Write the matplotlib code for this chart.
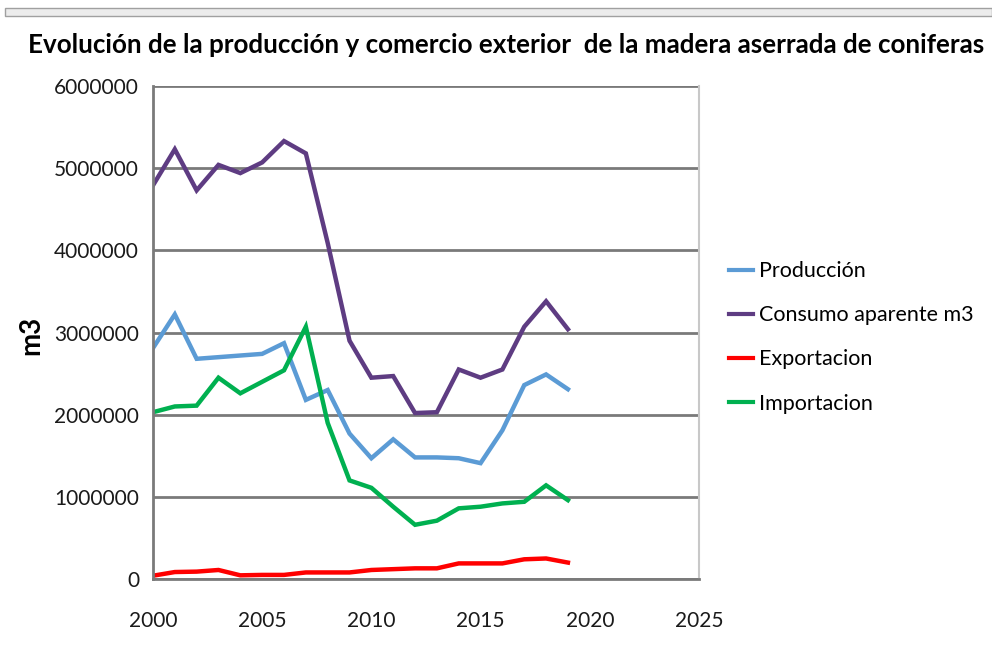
import matplotlib
matplotlib.use("Agg")
import matplotlib.pyplot as plt
from matplotlib.patches import Rectangle

plt.rcParams['font.family'] = ['Lato', 'DejaVu Sans']

years = list(range(2000, 2020))

produccion = [2810000, 3220000, 2680000, 2700000, 2720000, 2740000, 2870000, 2180000, 2300000, 1770000,
              1470000, 1700000, 1480000, 1480000, 1470000, 1410000, 1810000, 2360000, 2490000, 2310000]
consumo = [4790000, 5230000, 4730000, 5040000, 4940000, 5070000, 5330000, 5180000, 4090000, 2900000,
           2450000, 2470000, 2020000, 2030000, 2550000, 2450000, 2550000, 3070000, 3380000, 3040000]
exportacion = [40000, 85000, 90000, 110000, 45000, 50000, 50000, 80000, 80000, 80000,
               110000, 120000, 130000, 130000, 190000, 190000, 190000, 240000, 250000, 200000]
importacion = [2030000, 2100000, 2110000, 2450000, 2260000, 2400000, 2540000, 3070000, 1900000, 1200000,
               1110000, 880000, 660000, 710000, 860000, 880000, 920000, 940000, 1140000, 960000]

series_names = ["Producción", "Consumo aparente m3", "Exportacion", "Importacion"]
colors = ['#5B9BD5', '#5E3C82', '#FF0000', '#00B050']

fig = plt.figure(figsize=(9.92, 6.55), dpi=100)
ax = fig.add_axes([0.1542, 0.116, 0.5504, 0.7527])

# grey strip at the top of the screenshot
fig.patches.append(Rectangle((0.005, 0.975), 0.995, 0.013, transform=fig.transFigure,
                             facecolor='#ececec', edgecolor='#a0a0a0', linewidth=1))

for name, vals, c in zip(series_names, [produccion, consumo, exportacion, importacion], colors):
    ax.plot(years, vals, color=c, linewidth=3.2, label=name, solid_joinstyle='miter')

ax.set_xlim(2000, 2025)
ax.set_ylim(0, 6000000)
ax.set_xticks(range(2000, 2026, 5))
ax.set_yticks(range(0, 6000001, 1000000))
ax.set_yticklabels([str(v) for v in range(0, 6000001, 1000000)])
ax.tick_params(axis='both', length=0, labelsize=15, colors='#1a1a1a')
ax.tick_params(axis='x', pad=23)
ax.tick_params(axis='y', pad=10)

ax.yaxis.grid(True, color='#7a7a7a', linewidth=2)
ax.set_axisbelow(True)
ax.spines['left'].set_color('#7a7a7a')
ax.spines['left'].set_linewidth(2)
ax.spines['bottom'].set_color('#7a7a7a')
ax.spines['bottom'].set_linewidth(2)
ax.spines['right'].set_color('#c8c8c8')
ax.spines['right'].set_linewidth(1.5)
ax.spines['top'].set_visible(False)

ax.set_ylabel("m3", fontsize=20, fontweight='bold')
ax.yaxis.set_label_coords(-0.2, 0.495)

fig.text(0.51, 0.932, "Evolución de la producción y comercio exterior  de la madera aserrada de coniferas",
         ha='center', va='center', fontsize=18.7, fontweight='bold')

leg = ax.legend(loc='center left', bbox_to_anchor=(1.02, 0.49), frameon=False, fontsize=15.5,
                handlelength=1.1, handletextpad=0.3, labelspacing=1.12)
for line in leg.get_lines():
    line.set_linewidth(3)

fig.savefig("out.png", dpi=100)
